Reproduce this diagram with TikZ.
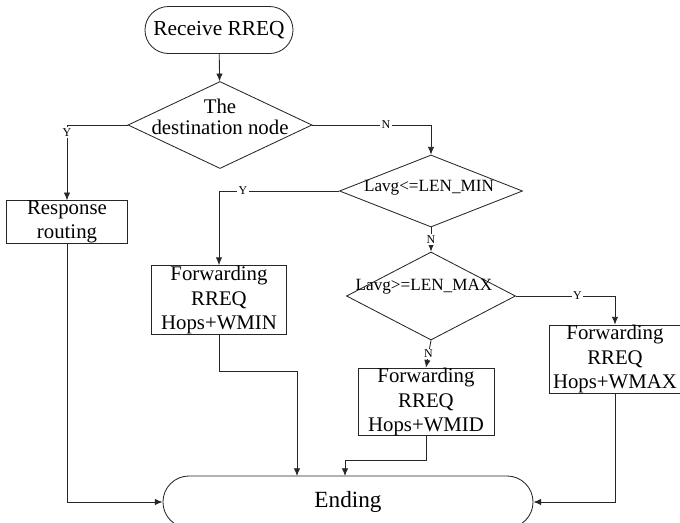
\documentclass[tikz,border=0pt]{standalone}
\usepackage{fontspec}
\setmainfont{Liberation Serif}
\usepackage{tikz}
\usetikzlibrary{arrows.meta}
\usetikzlibrary{shapes.geometric,shapes.misc}

\tikzset{
  base/.style={draw=black!85,line width=0.6pt,inner sep=0pt,align=center},
  term/.style={base,rounded rectangle,font=\fontsize{15.2}{17.4}\selectfont},
  proc/.style={base,rectangle,font=\fontsize{14.8}{17.4}\selectfont},
  dec/.style={base,diamond},
  dectext/.style={inner sep=0pt,align=center},
  flow/.style={draw=black!85,line width=0.6pt,-{Latex[length=5.5pt,width=4.6pt]}},
  yn/.style={fill=white,inner sep=1pt,font=\fontsize{8.5}{10}\selectfont}
}

\begin{document}
\begin{tikzpicture}[x=0.025cm,y=-0.025cm]
\useasboundingbox (0,0) rectangle (680,522);

\node[term,minimum width=3.7cm,minimum height=1.175cm] (recv) at (219,30) {Receive RREQ};

\node[dec,minimum width=4.6cm,minimum height=2.175cm] (dest) at (220,125) {};
\node[dectext,font=\fontsize{14.8}{15.2}\selectfont] (destt) at (220,117) {The\\destination node};

\node[proc,minimum width=3.025cm,minimum height=0.975cm] (resp) at (67,222) {Response\\routing};

\node[dec,minimum width=4.575cm,minimum height=1.8cm] (lmin) at (431,191) {};
\node[dectext,font=\fontsize{12.2}{14}\selectfont] (lmint) at (429,188) {Lavg<=LEN\_MIN};

\node[proc,minimum width=3.375cm,minimum height=1.725cm] (wmin) at (219,300) {Forwarding\\RREQ\\Hops+WMIN};

\node[dec,minimum width=4.225cm,minimum height=2.2cm] (lmax) at (431,296) {};
\node[dectext,font=\fontsize{12.2}{14}\selectfont] (lmaxt) at (424,287) {Lavg>=LEN\_MAX};

\node[proc,minimum width=3.4cm,minimum height=1.675cm] (wmid) at (426,402) {Forwarding\\RREQ\\Hops+WMID};

\node[proc,minimum width=3.3cm,minimum height=1.7cm] (wmax) at (615,359) {Forwarding\\RREQ\\Hops+WMAX};

\node[term,minimum width=9.25cm,minimum height=1.3cm,font=\fontsize{16.5}{19}\selectfont] (end) at (348,502) {Ending};

\coordinate (e1) at (297,476);
\coordinate (e2) at (345,476);

\draw[flow] (recv) -- (dest);
\draw[flow] (dest.west) -| node[yn,pos=0.55] {Y} (resp.north);
\draw[flow] (dest.east) -| node[yn,pos=0.31] {N} (lmin.north);
\draw[flow] (lmin.west) -| node[yn,pos=0.4] {Y} (wmin.north);
\draw[flow] (lmin.south) -- node[yn] {N} (lmax.north);
\draw[flow] (lmax.south) -- node[yn] {N} (wmid.north);
\draw[flow] (lmax.east) -| node[yn,pos=0.31] {Y} (wmax.north);

\draw[flow] (resp.south) |- (end.west);
\draw[flow] (wmin.south) -- ++(0,36) -| (e1);
\draw[flow] (wmid.south) -- ++(0,24) -| (e2);
\draw[flow] (wmax.south) |- (end.east);
\end{tikzpicture}
\end{document}
